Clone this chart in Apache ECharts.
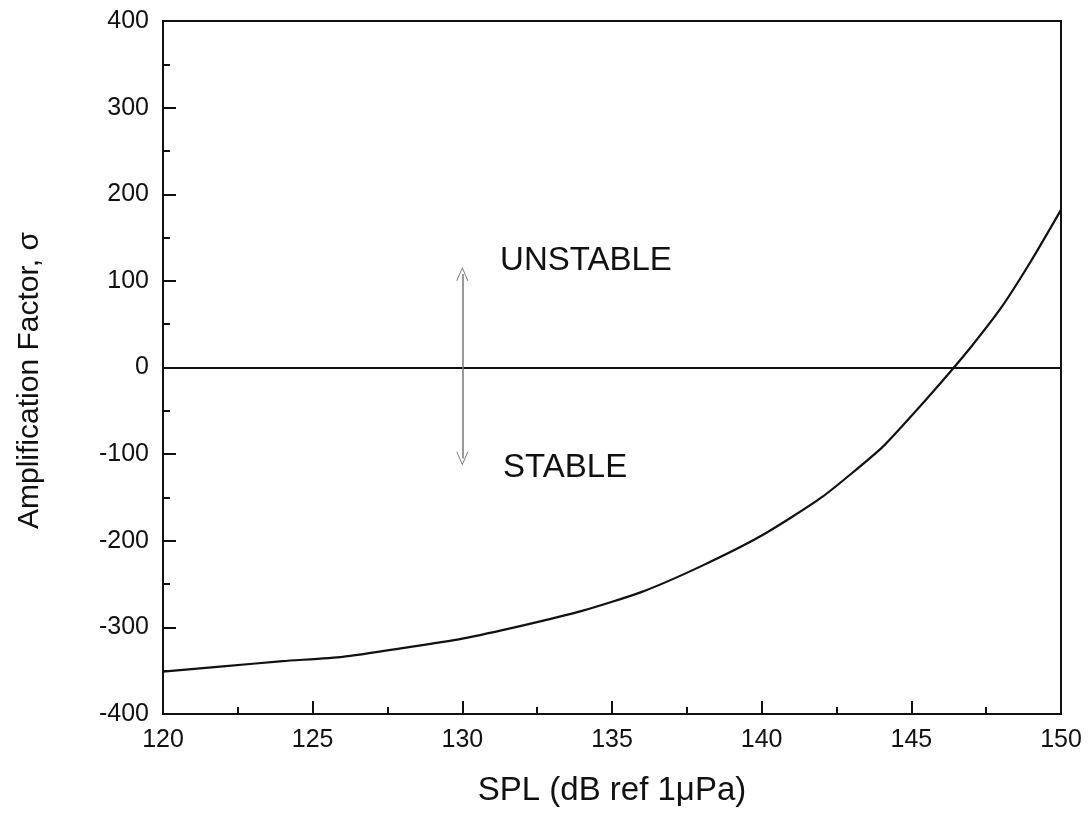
<!DOCTYPE html>
<html>
<head>
<meta charset="utf-8">
<script src="https://cdn.jsdelivr.net/npm/echarts@6/dist/echarts.min.js"></script>
<style>
  html, body { margin: 0; padding: 0; background: #fff; }
  #main { width: 1089px; height: 813px; }
</style>
</head>
<body>
<div id="main"></div>
<script>
// SPL (dB ref 1uPa) vs amplification factor
const spl = [120, 122, 124, 126, 128, 130, 132, 134, 136, 138, 140, 142, 144, 145, 146, 147, 148, 149, 150];
const sigma = [-351, -345, -339, -334, -324, -313, -298, -281, -259, -229, -194, -150, -93, -56, -17, 24, 69, 123, 182];

// double arrow between the two regions
const arrowX = 130;
const arrowFrom = -105;
const arrowTo = 108;

const notes = ['UNSTABLE', 'STABLE'];
const noteX = [131.26, 131.36];
const noteY = [123.6, -115.5];

const font = 'Liberation Sans, Arial, sans-serif';
const chevron = 'path://M0,0 L-6,13 L-5.2,13.4 L0,2 L5.2,13.4 L6,13 Z';

const myChart = echarts.init(document.getElementById('main'));

const option = {
    backgroundColor: '#fff',
    animation: false,
    grid: {
        left: 163,
        right: 28,
        top: 21,
        bottom: 99,
        show: true,
        borderColor: '#111',
        borderWidth: 2
    },
    xAxis: {
        type: 'value',
        min: 120,
        max: 150,
        interval: 5,
        name: 'SPL (dB ref 1\u03bcPa)',
        nameLocation: 'middle',
        nameGap: 60,
        nameTextStyle: { fontFamily: font, fontSize: 33, color: '#111', verticalAlign: 'top' },
        axisLine: { onZero: false, lineStyle: { color: '#111', width: 2 } },
        axisTick: { inside: true, length: 13, lineStyle: { color: '#111', width: 2 } },
        minorTick: { show: true, splitNumber: 2, length: 7, lineStyle: { color: '#111', width: 2 } },
        axisLabel: { fontFamily: font, fontSize: 25, color: '#111', margin: 14 },
        splitLine: { show: false }
    },
    yAxis: {
        type: 'value',
        min: -400,
        max: 400,
        interval: 100,
        name: 'Amplification Factor, \u03c3',
        nameLocation: 'middle',
        nameGap: 118,
        nameTextStyle: { fontFamily: font, fontSize: 30, color: '#111', padding: [0, 26, 0, 0] },
        axisLine: { onZero: false, lineStyle: { color: '#111', width: 2 } },
        axisTick: { inside: true, length: 13, lineStyle: { color: '#111', width: 2 } },
        minorTick: { show: true, splitNumber: 2, length: 7, lineStyle: { color: '#111', width: 2 } },
        axisLabel: { fontFamily: font, fontSize: 25, color: '#111', margin: 14 },
        splitLine: { show: false }
    },
    series: [
        {
            type: 'line',
            data: spl.map((x, i) => [x, sigma[i]]),
            showSymbol: false,
            smooth: 0.2,
            lineStyle: { color: '#111', width: 2.2 },
            z: 5,
            markLine: {
                silent: true,
                label: { show: false },
                data: [
                    [
                        { coord: [120, 0], symbol: 'none' },
                        { coord: [150, 0], symbol: 'none' }
                    ],
                    [
                        { coord: [arrowX, arrowFrom], symbol: chevron, symbolSize: [12, 14] },
                        { coord: [arrowX, arrowTo], symbol: chevron, symbolSize: [12, 14],
                          lineStyle: { color: '#777', width: 1.5, type: 'solid' } }
                    ]
                ],
                lineStyle: { color: '#111', width: 2, type: 'solid' }
            }
        },
        {
            type: 'scatter',
            data: notes.map((t, i) => ({ value: [noteX[i], noteY[i]], name: t })),
            symbolSize: 0,
            silent: true,
            itemStyle: { opacity: 1 },
            label: {
                show: true,
                position: 'right',
                distance: 0,
                formatter: p => p.name,
                fontFamily: font,
                fontSize: 33,
                color: '#111',
                opacity: 1
            }
        }
    ]
};

myChart.setOption(option);
</script>
</body>
</html>
